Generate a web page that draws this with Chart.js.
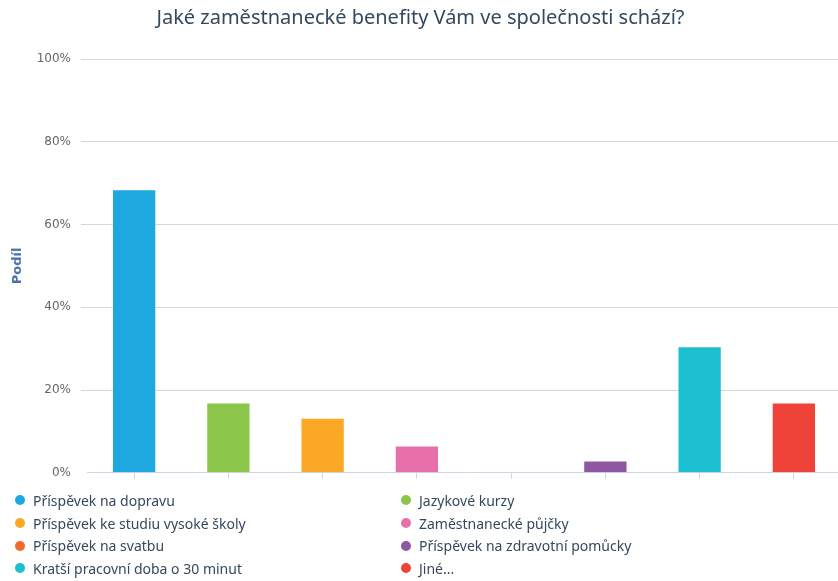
<!DOCTYPE html>
<html>
<head>
<meta charset="utf-8">
<script src="https://cdn.jsdelivr.net/npm/chart.js@4/dist/chart.umd.min.js"></script>
<style>
  html, body { margin: 0; padding: 0; background: #fff; overflow: hidden; }
  #wrap { position: relative; width: 838px; height: 581px; }
  #chart { position: absolute; left: 0; top: 0; }
  #legend {
    position: absolute; left: 15px; top: 489px; width: 820px;
    display: grid; grid-template-columns: 386px 400px; row-gap: 0;
    font-family: "Noto Sans", sans-serif; font-size: 14px; color: #34495e;
  }
  .item { display: flex; align-items: center; height: 22.7px; }
  .dot { width: 10px; height: 10px; border-radius: 50%; margin-right: 8px; flex: none; }
</style>
</head>
<body>
<div id="wrap">
  <canvas id="chart" width="841" height="490" style="width:841px;height:490px"></canvas>
  <div id="legend"></div>
</div>
<script>
const title = 'Jaké zaměstnanecké benefity Vám ve společnosti schází?';
const axisTitle = 'Podíl';
const categories = [
    'Příspěvek na dopravu',
    'Jazykové kurzy',
    'Příspěvek ke studiu vysoké školy',
    'Zaměstnanecké půjčky',
    'Příspěvek na svatbu',
    'Příspěvek na zdravotní pomůcky',
    'Kratší pracovní doba o 30 minut',
    'Jiné...'
];
const shares = [68.5, 17.0, 13.3, 6.6, 0, 3.0, 30.6, 17.0];
const colors = ['#1ea8e0', '#8bc54a', '#fba826', '#e770aa', '#f26a2b', '#9056a2', '#1cbfcf', '#ef4238'];
const yTicks = [0, 20, 40, 60, 80, 100];

const legendBox = document.getElementById('legend');
categories.forEach((name, i) => {
    const item = document.createElement('div');
    item.className = 'item';
    const dot = document.createElement('span');
    dot.className = 'dot';
    dot.style.background = colors[i];
    const label = document.createElement('span');
    label.textContent = name;
    item.appendChild(dot);
    item.appendChild(label);
    legendBox.appendChild(item);
});

const ctx = document.getElementById('chart').getContext('2d');
new Chart(ctx, {
    type: 'bar',
    data: {
        labels: categories,
        datasets: [{
            label: axisTitle,
            data: shares,
            backgroundColor: colors,
            borderColor: 'rgba(255,255,255,0.35)',
            borderWidth: 1,
            barPercentage: 0.47,
            categoryPercentage: 1,
        }],
    },
    options: {
        responsive: false,
        animation: false,
        layout: { padding: { top: 0, right: 0, bottom: 3, left: 0 } },
        plugins: {
            legend: { display: false },
            tooltip: { enabled: false },
            title: {
                display: true,
                text: title,
                color: '#34495e',
                font: { family: 'Noto Sans', size: 20, weight: 'normal' },
                padding: { top: 6, bottom: 29 },
            },
        },
        scales: {
            x: {
                offset: true,
                grid: {
                    offset: false,
                    drawOnChartArea: false,
                    drawTicks: true,
                    tickLength: 6,
                    color: '#ccd6eb',
                },
                border: { display: true, color: '#ccd6eb', width: 1 },
                ticks: { display: false },
            },
            y: {
                min: 0,
                max: 100,
                afterFit: (scale) => { scale.width = 87; },
                afterBuildTicks: (scale) => { scale.ticks = yTicks.map(v => ({ value: v })); },
                grid: {
                    color: (c) => (c.tick && c.tick.value === 0 ? 'rgba(0,0,0,0)' : '#d6d6d6'),
                    drawTicks: true,
                    tickLength: 6,
                },
                border: { display: false },
                ticks: {
                    padding: 10,
                    color: '#666',
                    font: { family: 'DejaVu Sans', size: 12 },
                    callback: (v) => v + '%',
                },
                title: {
                    display: true,
                    text: axisTitle,
                    color: '#4a75a8',
                    font: { family: 'DejaVu Sans', size: 13, weight: 'bold' },
                    padding: { top: 10, bottom: 0 },
                },
            },
        },
    },
});
</script>
</body>
</html>
